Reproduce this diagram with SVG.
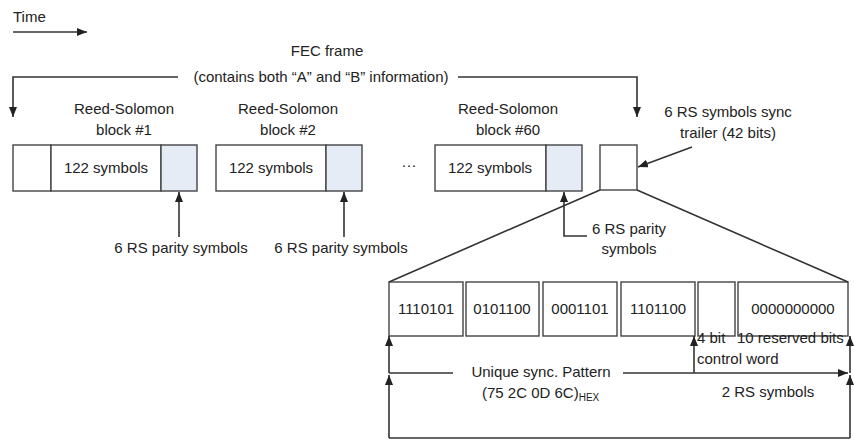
<svg xmlns="http://www.w3.org/2000/svg" width="854" height="441" viewBox="0 0 854 441">
  <style>
    text { font-family: "Liberation Sans", Arial, sans-serif; font-size: 15px; fill: #222; }
    .mid { text-anchor: middle; }
    .sub { font-size: 10px; }
    .box { fill: #fff; stroke: #444; stroke-width: 1.4; }
    .par { fill: #e6ecf6; stroke: #444; stroke-width: 1.4; }
    .ln { fill: none; stroke: #333; stroke-width: 1.6; }
    .arr { fill: none; stroke: #333; stroke-width: 1.6; marker-end: url(#ah); }
  </style>
  <defs>
    <marker id="ah" markerUnits="userSpaceOnUse" markerWidth="10" markerHeight="8" refX="10" refY="4" orient="auto">
      <path d="M0,0 L10,4 L0,8 z" fill="#222"/>
    </marker>
  </defs>
  <rect width="854" height="441" fill="#fff"/>

  <!-- time direction -->
  <g id="time">
    <text x="13" y="22">Time</text>
    <path class="arr" d="M13,32 H87"/>
  </g>

  <!-- FEC frame caption -->
  <g id="fec-frame">
    <text class="mid" x="327" y="56">FEC frame</text>
    <text class="mid" x="321" y="82">(contains both “A” and “B” information)</text>
  </g>

  <!-- Reed-Solomon block #1 -->
  <g id="rs-block-1">
    <text class="mid" x="124" y="114">Reed-Solomon</text>
    <text class="mid" x="124" y="135">block #1</text>
    <rect class="box" x="13" y="145" width="38" height="46"/>
    <rect class="box" x="51" y="145" width="110" height="46"/>
    <rect class="par" x="161" y="145" width="36" height="46"/>
    <text class="mid" x="106" y="173">122 symbols</text>
  </g>

  <!-- Reed-Solomon block #2 -->
  <g id="rs-block-2">
    <text class="mid" x="288" y="114">Reed-Solomon</text>
    <text class="mid" x="288" y="135">block #2</text>
    <rect class="box" x="216" y="145" width="110" height="46"/>
    <rect class="par" x="326" y="145" width="36" height="46"/>
    <text class="mid" x="271" y="173">122 symbols</text>
  </g>

  <text id="ellipsis" class="mid" x="409" y="170">···</text>

  <!-- Reed-Solomon block #60 -->
  <g id="rs-block-60">
    <text class="mid" x="508" y="114">Reed-Solomon</text>
    <text class="mid" x="508" y="135">block #60</text>
    <rect class="box" x="435" y="145" width="111" height="46"/>
    <rect class="par" x="546" y="145" width="36" height="46"/>
    <text class="mid" x="490" y="173">122 symbols</text>
  </g>

  <!-- sync trailer -->
  <g id="sync-trailer">
    <rect class="box" x="600" y="145" width="37" height="45"/>
    <text class="mid" x="728" y="117">6 RS symbols sync</text>
    <text class="mid" x="728" y="138">trailer (42 bits)</text>
  </g>

  <!-- parity labels -->
  <g id="parity-labels">
    <text class="mid" x="181" y="253">6 RS parity symbols</text>
    <text class="mid" x="341" y="253">6 RS parity symbols</text>
    <text class="mid" x="629" y="234">6 RS parity</text>
    <text class="mid" x="629" y="254">symbols</text>
  </g>

  <!-- expanded trailer -->
  <g id="trailer-detail">
    <rect class="box" x="389" y="282" width="74" height="54"/>
    <rect class="box" x="466" y="282" width="73" height="54"/>
    <rect class="box" x="543" y="282" width="74" height="54"/>
    <rect class="box" x="621" y="282" width="74" height="54"/>
    <rect class="box" x="698" y="282" width="37" height="54"/>
    <rect class="box" x="738" y="282" width="110" height="54"/>
    <text class="mid" x="426" y="314">1110101</text>
    <text class="mid" x="502" y="314">0101100</text>
    <text class="mid" x="580" y="314">0001101</text>
    <text class="mid" x="658" y="314">1101100</text>
    <text class="mid" x="793" y="314">0000000000</text>
  </g>

  <!-- field annotations -->
  <g id="field-labels">
    <text x="697" y="343">4 bit</text>
    <text x="697" y="364">control word</text>
    <text x="737" y="343">10 reserved bits</text>
    <text class="mid" x="541" y="377">Unique sync. Pattern</text>
    <text x="482" y="398">(75 2C 0D 6C)<tspan class="sub" dy="3">HEX</tspan></text>
    <text class="mid" x="768" y="397">2 RS symbols</text>
  </g>

  <!-- connectors -->
  <g id="connectors">
    <path class="arr" d="M178,77 H13 V117"/>
    <path class="arr" d="M458,77 H637 V117"/>
    <path class="arr" d="M179,237 V192"/>
    <path class="arr" d="M344,237 V192"/>
    <path class="arr" d="M587,236 H564 V192"/>
    <path class="arr" d="M692,147 L638,167"/>
    <path class="ln" d="M600,190 L389,282"/>
    <path class="ln" d="M637,190 L848,282"/>
    <path class="arr" d="M389,438 V375"/>
    <path class="arr" d="M389,373 V336"/>
    <path class="arr" d="M850,438 V375"/>
    <path class="arr" d="M850,373 V336"/>
    <path class="ln" d="M389,373 H453"/>
    <path class="arr" d="M623,373 H848"/>
    <path class="arr" d="M694,373 V336"/>
    <path class="ln" d="M389,438 H850"/>
  </g>
</svg>
